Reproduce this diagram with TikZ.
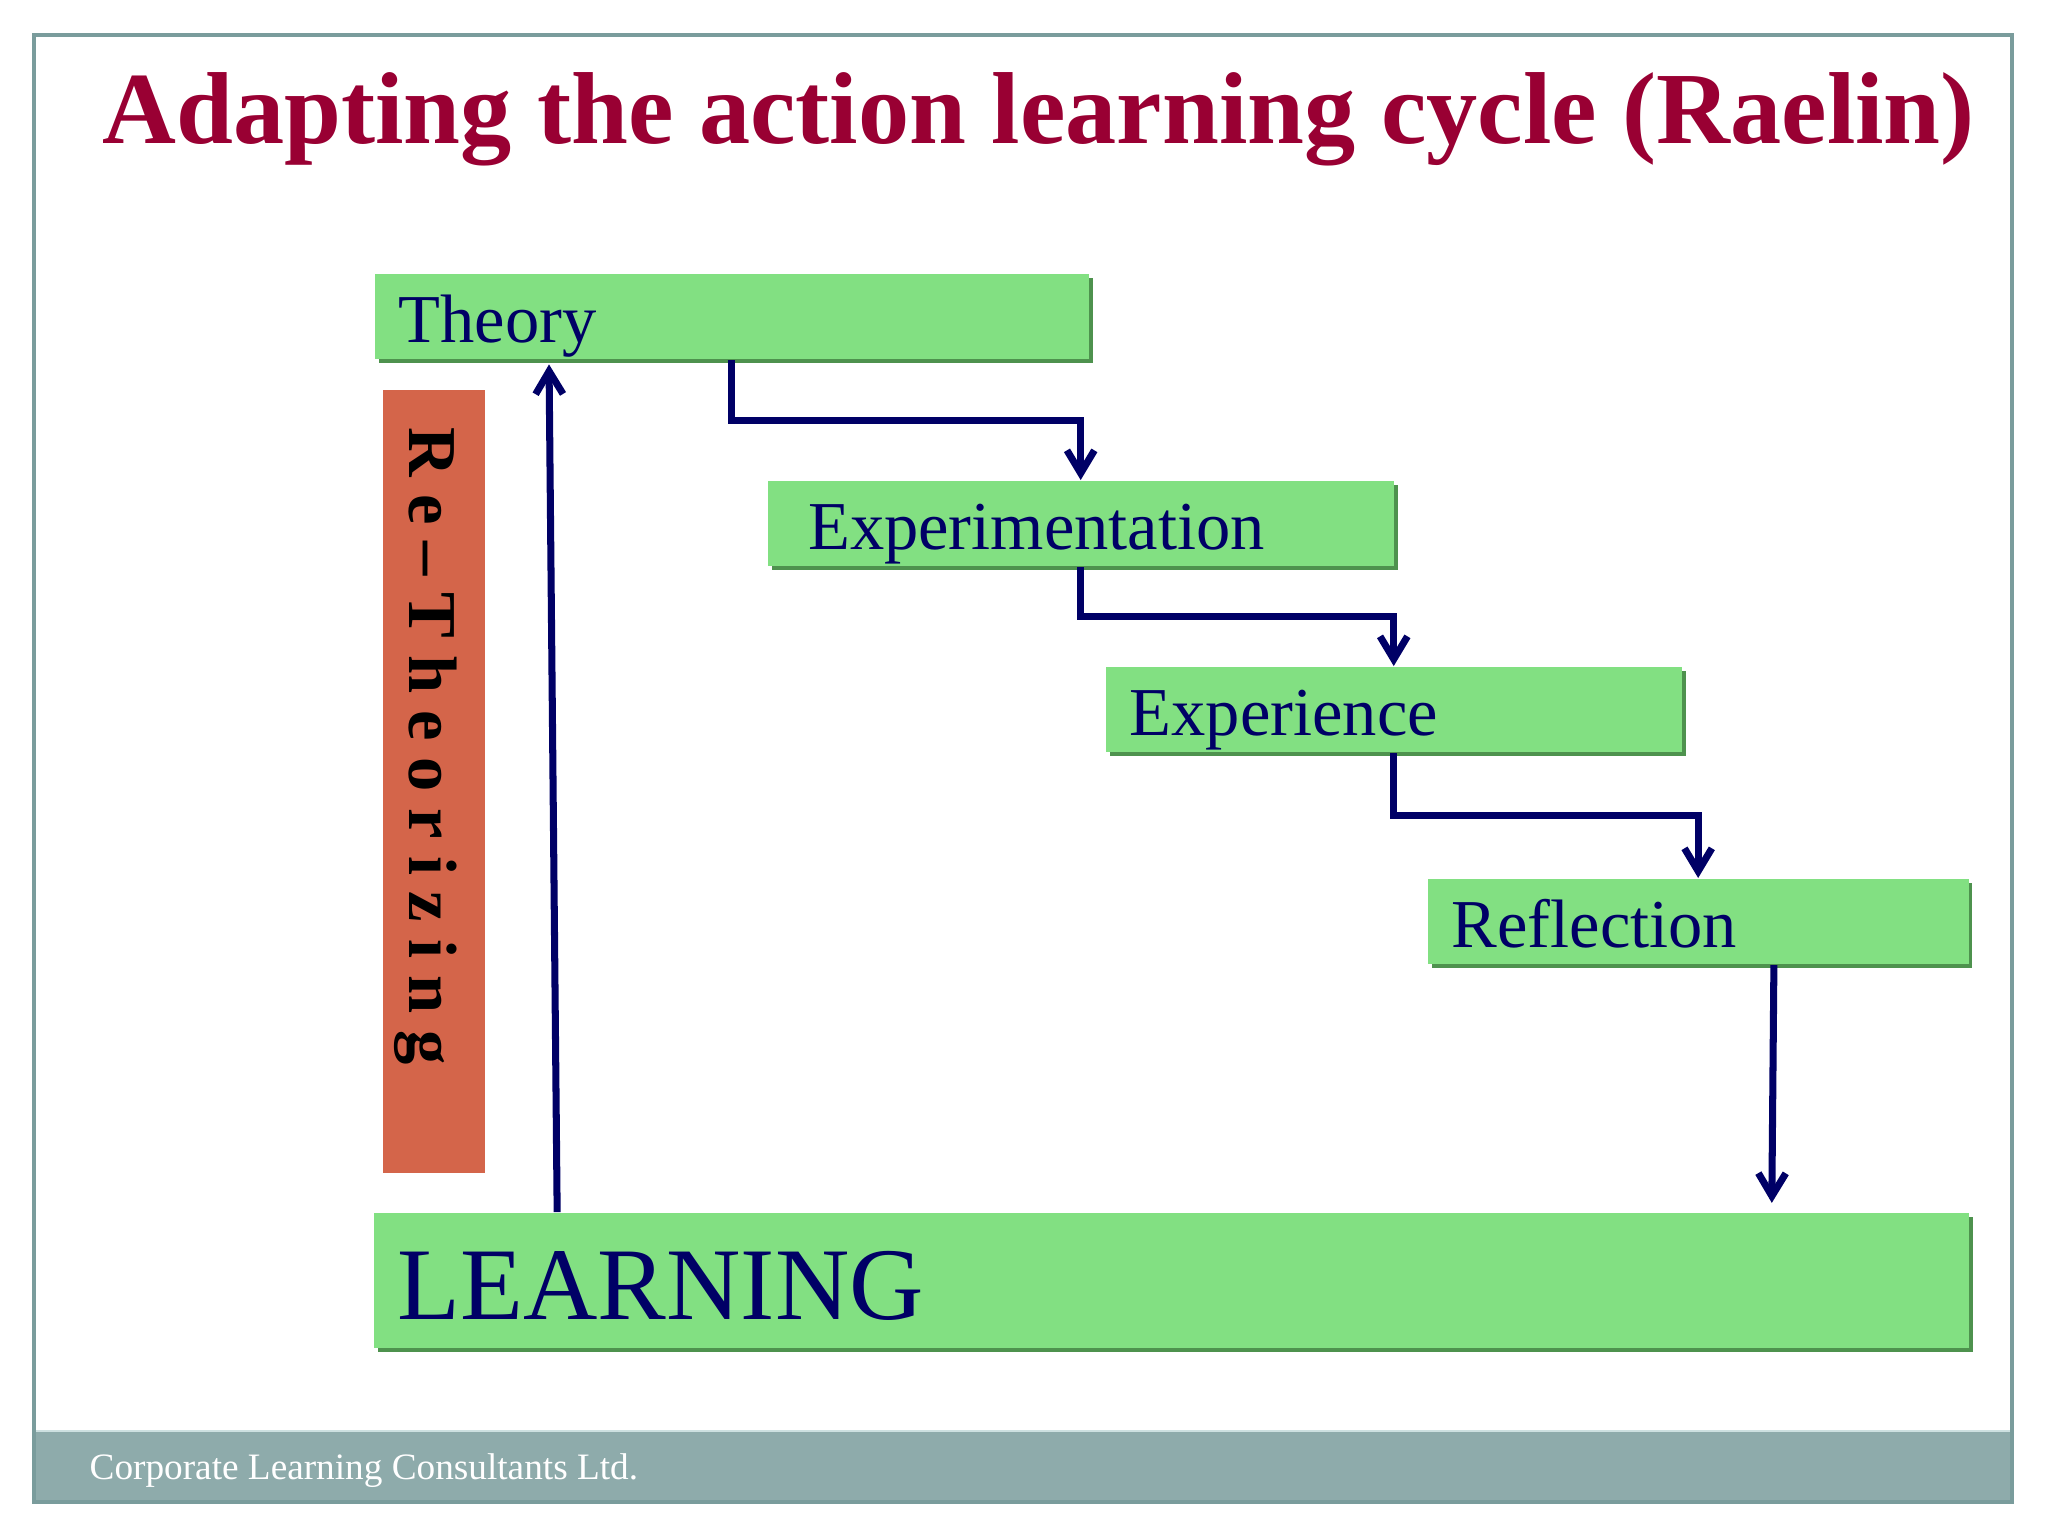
\documentclass[tikz,border=0pt]{standalone}
\usepackage{fontspec}
\setmainfont{Liberation Serif}
\usetikzlibrary{arrows.meta,shadows,calc}
\definecolor{boxgreen}{RGB}{130,224,130}
\definecolor{shadegreen}{RGB}{78,146,78}
\definecolor{navy}{RGB}{0,0,102}
\definecolor{titlered}{RGB}{153,0,51}
\definecolor{orangebox}{RGB}{212,101,74}
\definecolor{framegray}{RGB}{122,156,156}
\definecolor{footerfill}{RGB}{142,171,171}
\definecolor{footerline}{RGB}{205,224,224}
\newcommand\lsp{\kern4.8pt}
\begin{document}
\begin{tikzpicture}[x=0.1mm,y=-0.1mm,
  stage/.style={anchor=north west, fill=boxgreen, draw=none, inner ysep=0pt, inner xsep=6.8pt,
    align=left, text=navy, font=\fontsize{19.5}{22}\selectfont,
    text height=19.5pt, text depth=4.9pt,
    drop shadow={shadow xshift=1.1pt, shadow yshift=-1.1pt, fill=shadegreen, opacity=1}},
  conn/.style={draw=navy, line width=2pt, line join=miter, -{Straight Barb[length=6.5pt,width=7.8pt]}}]
\useasboundingbox (0,0) rectangle (2048,1536);
\fill[white] (0,0) rectangle (2048,1536);
% footer band and frame
\fill[footerfill] (34,1431) rectangle (2012,1502);
\draw[footerline, line width=0.6pt] (34,1431) -- (2012,1431);
\draw[framegray, line width=0.9pt] (34,35) rectangle (2012,1502);
\node[anchor=base west, text=white, inner sep=0pt, font=\fontsize{10.6}{12}\selectfont] (footer) at (89,1479) {Corporate Learning Consultants Ltd.};
% title
\node[anchor=base west, text=titlered, inner sep=0pt, font=\bfseries\fontsize{29.1}{34}\selectfont] (title) at (102,143) {Adapting the action learning cycle (Raelin)};
% stages
\node[stage, text width=189.6pt] (theory) at (374,273) {Theory};
\node[stage, inner xsep=11.5pt, text width=155.1pt] (exper) at (767,480) {Experimentation};
\node[stage, text width=150.3pt] (experience) at (1105,666) {Experience};
\node[stage, text width=140.3pt] (reflection) at (1427,878) {Reflection};
\node[stage, text width=440.2pt, font=\fontsize{29.3}{32}\selectfont, text height=30.4pt, text depth=8pt] (learning) at (373,1212) {LEARNING};
% re-theorizing bar
\node[fill=orangebox, rotate=-90, inner ysep=0pt, inner xsep=10.8pt, text width=201.2pt, align=left,
  text height=21.6pt, text depth=7.4pt, text=black, font=\bfseries\fontsize{19.5}{22}\selectfont] (retheo) at (434,781.5)
  {R\lsp e\lsp –\lsp T\lsp h\lsp e\lsp o\lsp r\lsp i\lsp z\lsp i\lsp n\lsp g};
% connectors
\draw[conn] (theory.south) |- ($(theory.south)!0.5!(exper.north)$) -| (exper.north);
\draw[conn] (exper.south) |- ($(exper.south)!0.5!(experience.north)$) -| (experience.north);
\draw[conn] (experience.south) |- ($(experience.south)!0.5!(reflection.north)$) -| (reflection.north);
\draw[conn] ([xshift=98.7pt]reflection.south west) -- ([xshift=398pt,yshift=2.6pt]learning.north west);
\draw[conn] ([xshift=52.4pt]learning.north west) -- ([xshift=49.8pt,yshift=-1.2pt]theory.south west);
\end{tikzpicture}
\end{document}
